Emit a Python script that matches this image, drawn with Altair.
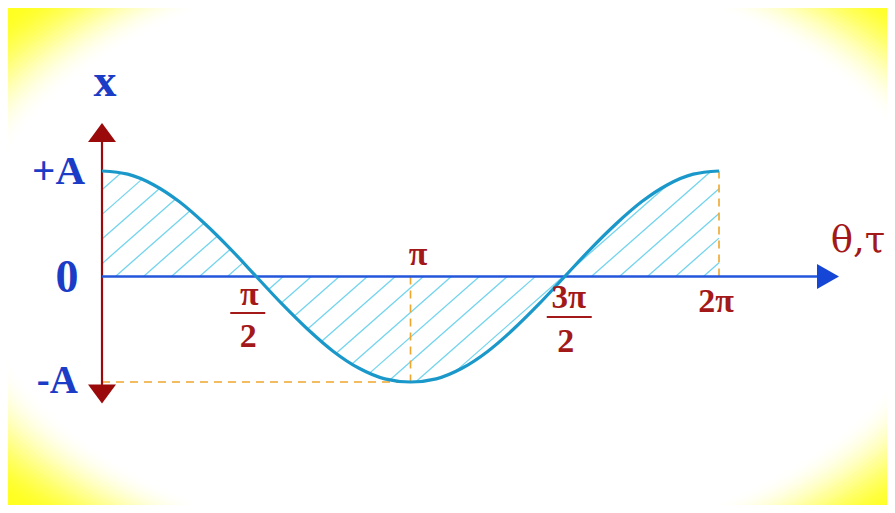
import numpy as np
import pandas as pd
import altair as alt

# ---------------- data ----------------
THETA_DEG = list(range(0, 361, 15))
X_VALUES = [1.00, 0.97, 0.87, 0.71, 0.50, 0.26, 0.00, -0.26, -0.50, -0.71, -0.87, -0.97,
            -1.00, -0.97, -0.87, -0.71, -0.50, -0.26, 0.00, 0.26, 0.50, 0.71, 0.87, 0.97, 1.00]

PI = np.pi
Y_LABELS = ["+A", "0", "-A"]
Y_LABEL_VALUES = [1.0, 0.0, -1.0]

# ---------------- layout (style) ----------------
W, H = 879, 497
ORIGIN_X, ORIGIN_Y = 94, 268.5
PX_RAD, PX_A = 98.2, 105.5
XS = alt.Scale(domain=[-ORIGIN_X / PX_RAD, (W - ORIGIN_X) / PX_RAD], nice=False, zero=False)
YS = alt.Scale(domain=[-(H - ORIGIN_Y) / PX_A, ORIGIN_Y / PX_A], nice=False, zero=False)

AX_TOP, AX_BOT = 1.275, -1.028          # vertical axis line extents (arrow bases)
AR_TOP, AR_BOT = 1.365, -1.114          # arrow head centres
AX_RIGHT, AR_RIGHT = 7.281, 7.393       # horizontal axis end / arrow centre

BLUE_TXT = "#1B3CC6"
RED_TXT = "#A31818"
AXIS_RED = "#9A0A0A"
AXIS_BLUE = "#2356DA"
CURVE = "#1A98CA"
HATCH = "#72D4EE"
DASH = "#EFA62C"
YELLOW = "#FFFF22"
RED_FONT = "Liberation Serif"
GREEK_FONT = "DejaVu Serif"
BLUE_FONT = "Liberation Serif"

# background vignette (white ellipse fading into yellow corners)
BG_CX, BG_CY = 450, 248
BG_A, BG_RATIO = 482, 0.61
BG_SPREAD, BG_RINGS = 0.25, 30


def X(f="th"):
    return alt.X(f"{f}:Q", scale=XS, axis=None)


def Y(f="v"):
    return alt.Y(f"{f}:Q", scale=YS, axis=None)


theta = np.radians(THETA_DEG)
curve_df = pd.DataFrame({"th": theta, "v": X_VALUES})

# ---------------- hatch segments (decoration) ----------------
HATCH_SLOPE_PX, HATCH_STEP_PX = 0.88, 28.0
k = HATCH_SLOPE_PX * PX_RAD / PX_A
grid = np.linspace(0, 2 * PI, 4000)
fv = np.interp(grid, theta, X_VALUES)
segs = []
for c in np.arange(-3.0, 2 * PI + 0.3, HATCH_STEP_PX / PX_RAD):
    L = k * (grid - c)
    inside = np.where(fv >= 0, (L >= 0) & (L <= fv), (L <= 0) & (L >= fv))
    idx = np.flatnonzero(np.diff(np.concatenate([[0], inside.astype(int), [0]])))
    for s, e in zip(idx[0::2], idx[1::2]):
        e = e - 1
        if e - s > 2:
            segs.append((grid[s], L[s], grid[e], L[e]))
hatch_df = pd.DataFrame(segs, columns=["th", "v", "th2", "v2"])

# ---------------- background ----------------
bg = alt.Chart(pd.DataFrame({"a": [0]})).mark_rect(color=YELLOW).encode(
    x=alt.value(0), x2=alt.value("width"), y=alt.value(0), y2=alt.value("height"))

n = np.arange(0, BG_RINGS + 1)
t = n / BG_RINGS
yellow_left = 1 - (3 * t ** 2 - 2 * t ** 3)          # yellow fraction after n white rings
alphas = [1 - (yellow_left[i] / yellow_left[i - 1]) for i in range(1, BG_RINGS + 1)]
ring_scale = 1 + BG_SPREAD * (BG_RINGS - np.arange(1, BG_RINGS + 1)) / (BG_RINGS - 1)
ring_df = pd.DataFrame({"s": (2 * BG_A * ring_scale) ** 2, "o": alphas})
ellipse_path = f"M -1 0 A 1 {BG_RATIO} 0 1 1 1 0 A 1 {BG_RATIO} 0 1 1 -1 0 Z"
rings = alt.Chart(ring_df).mark_point(shape=ellipse_path, filled=True, color="white", strokeWidth=0).encode(
    x=alt.value(BG_CX), y=alt.value(BG_CY),
    size=alt.Size("s:Q", scale=None, legend=None),
    opacity=alt.Opacity("o:Q", scale=None, legend=None))

# ---------------- plot layers ----------------
hatch = alt.Chart(hatch_df).mark_rule(color=HATCH, strokeWidth=1.3).encode(
    x=X(), y=Y(), x2="th2:Q", y2="v2:Q")

dash_df = pd.DataFrame({"th": [0, PI, 2 * PI], "v": [-1, 0, 0], "th2": [PI, PI, 2 * PI], "v2": [-1, -1, 1]})
dashes = alt.Chart(dash_df).mark_rule(color=DASH, strokeWidth=1.6, strokeDash=[8, 6]).encode(
    x=X(), y=Y(), x2="th2:Q", y2="v2:Q")

vaxis = alt.Chart(pd.DataFrame({"th": [0], "v": [AX_BOT], "th2": [0], "v2": [AX_TOP]})).mark_rule(
    color=AXIS_RED, strokeWidth=2.2).encode(x=X(), y=Y(), x2="th2:Q", y2="v2:Q")
haxis = alt.Chart(pd.DataFrame({"th": [0], "v": [0], "th2": [AX_RIGHT], "v2": [0]})).mark_rule(
    color=AXIS_BLUE, strokeWidth=2.4).encode(x=X(), y=Y(), x2="th2:Q", y2="v2:Q")

curve = alt.Chart(curve_df).mark_line(color=CURVE, strokeWidth=3.2, interpolate="monotone").encode(
    x=X(), y=Y())

ar_up = alt.Chart(pd.DataFrame({"th": [0], "v": [AR_TOP]})).mark_point(
    shape="M -1 0.68 L 1 0.68 L 0 -0.68 Z", size=784, filled=True, opacity=1, color=AXIS_RED
).encode(x=X(), y=Y())
ar_dn = alt.Chart(pd.DataFrame({"th": [0], "v": [AR_BOT]})).mark_point(
    shape="M -1 -0.68 L 1 -0.68 L 0 0.68 Z", size=784, filled=True, opacity=1, color=AXIS_RED
).encode(x=X(), y=Y())
ar_rt = alt.Chart(pd.DataFrame({"th": [AR_RIGHT], "v": [0]})).mark_point(
    shape="M -0.88 -1 L 0.88 0 L -0.88 1 Z", size=625, filled=True, opacity=1, color="#1546D6"
).encode(x=X(), y=Y())


def label(text, th, v, dx, dy, size, color, font=RED_FONT, weight="bold", align="center"):
    df = pd.DataFrame({"t": [text], "th": [th], "v": [v]})
    return alt.Chart(df).mark_text(
        align=align, baseline="alphabetic", dx=dx, dy=dy, font=font, fontSize=size,
        fontWeight=weight, color=color
    ).encode(x=X(), y=Y(), text="t:N")


def bar(th, x_off, x2_off, y_off):
    df = pd.DataFrame({"th": [th], "v": [0], "th2": [th], "v2": [0]})
    return alt.Chart(df).mark_rule(
        color=RED_TXT, strokeWidth=2.2, xOffset=x_off, x2Offset=x2_off, yOffset=y_off, y2Offset=y_off
    ).encode(x=X(), y=Y(), x2="th2:Q", y2="v2:Q")


texts = [
    label("x", 0, 1, 3, -75, 46, BLUE_TXT, font=BLUE_FONT),
    label(Y_LABELS[0], 0, Y_LABEL_VALUES[0], -17, 13, 41, BLUE_TXT, font=BLUE_FONT, align="right"),
    label(Y_LABELS[1], 0, Y_LABEL_VALUES[1], -35, 15.5, 46, BLUE_TXT, font=BLUE_FONT),
    label(Y_LABELS[2], 0, Y_LABEL_VALUES[2], -24, 11, 39, BLUE_TXT, font=BLUE_FONT, align="right"),
    label("π", PI, 0, 7.5, -11.5, 34, RED_TXT),
    label("π", PI / 2, 0, -7, 28.5, 34, RED_TXT),
    bar(PI / 2, -26, 9, 36.5),
    label("2", PI / 2, 0, -8, 70.5, 34, RED_TXT),
    label("3π", 3 * PI / 2, 0, 4, 31.5, 33, RED_TXT),
    bar(3 * PI / 2, -18, 27, 40.5),
    label("2", 3 * PI / 2, 0, 1, 75.5, 34, RED_TXT),
    label("2π", 2 * PI, 0, -3, 35.5, 34, RED_TXT),
    label("θ,τ", AX_RIGHT, 0, 41, -24.5, 37, RED_TXT, font=GREEK_FONT, weight="normal"),
]

chart = alt.layer(bg, rings, hatch, dashes, vaxis, haxis, curve, ar_up, ar_dn, ar_rt, *texts).properties(
    width=W, height=H, padding=0, autosize="none", background="white"
).configure_view(stroke=None)

chart.save("out.html", embed_options={"renderer": "svg", "actions": False})
